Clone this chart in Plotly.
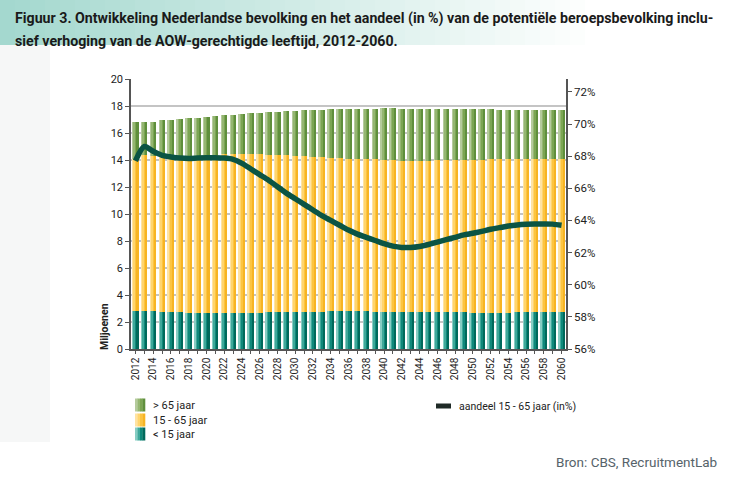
import plotly.graph_objects as go

years = list(range(2012, 2061))

under15 = [2.84, 2.84, 2.84, 2.77, 2.77, 2.77, 2.69, 2.69, 2.69, 2.69,
           2.69, 2.69, 2.69, 2.69, 2.69, 2.77, 2.77, 2.77, 2.77, 2.77,
           2.77, 2.77, 2.84, 2.84, 2.84, 2.84, 2.84, 2.77, 2.77, 2.77,
           2.77, 2.77, 2.77, 2.77, 2.77, 2.77, 2.77, 2.77, 2.69, 2.69,
           2.69, 2.69, 2.69, 2.77, 2.77, 2.77, 2.77, 2.77, 2.77]

age15_65 = [11.26, 11.56, 11.48, 11.48, 11.43, 11.48, 11.63, 11.63, 11.71, 11.71,
            11.78, 11.78, 11.78, 11.78, 11.78, 11.63, 11.63, 11.63, 11.55, 11.55,
            11.48, 11.43, 11.33, 11.33, 11.26, 11.26, 11.21, 11.28, 11.21, 11.21,
            11.13, 11.13, 11.13, 11.13, 11.21, 11.21, 11.21, 11.21, 11.29, 11.29,
            11.36, 11.36, 11.36, 11.28, 11.28, 11.28, 11.33, 11.33, 11.33]

over65 = [2.69, 2.39, 2.52, 2.69, 2.79, 2.81, 2.82, 2.82, 2.81, 2.88,
          2.89, 2.89, 2.96, 3.04, 3.04, 3.18, 3.18, 3.25, 3.33, 3.41,
          3.48, 3.53, 3.61, 3.61, 3.68, 3.68, 3.73, 3.73, 3.87, 3.87,
          3.88, 3.88, 3.88, 3.88, 3.80, 3.80, 3.80, 3.80, 3.80, 3.80,
          3.73, 3.67, 3.67, 3.67, 3.67, 3.67, 3.62, 3.62, 3.62]

share15_65 = [67.70, 68.60, 68.30, 68.05, 67.95, 67.88, 67.85, 67.88, 67.90, 67.90,
              67.88, 67.80, 67.55, 67.20, 66.85, 66.50, 66.10, 65.70, 65.35, 65.00,
              64.65, 64.30, 64.00, 63.70, 63.40, 63.15, 62.95, 62.75, 62.55, 62.40,
              62.32, 62.32, 62.38, 62.50, 62.65, 62.80, 62.95, 63.10, 63.20, 63.32,
              63.45, 63.55, 63.65, 63.72, 63.76, 63.78, 63.78, 63.77, 63.70]

left_ticks = [0, 2, 4, 6, 8, 10, 12, 14, 16, 18, 20]
right_ticks = [56, 58, 60, 62, 64, 66, 68, 70, 72]
year_labels = [str(y) if y % 2 == 0 else "" for y in years]

FONT = "Roboto, Liberation Sans, sans-serif"

# plot area in pixels
L, R, T, B = 131, 566, 79, 349
W, H = 731, 496


def px(x):
    return (x - L) / (R - L)


def py(y):
    return (B - y) / (B - T)


series = [
    ("< 15 jaar", under15, ["#86cdc3", "#3fa89a", "#0f887a", "#00695b"]),
    ("15 - 65 jaar", age15_65, ["#ffe3a2", "#ffd56e", "#fcc441", "#f7b423"]),
    ("> 65 jaar", over65, ["#b5cb9c", "#95b672", "#7ba553", "#5f8f3c"]),
]

fig = go.Figure()

base = [0.0] * len(years)
n_strips = 4
bar_w = 0.68
strip_w = bar_w / n_strips
for name, vals, cols in series:
    for i, c in enumerate(cols):
        fig.add_trace(go.Bar(
            x=years, y=vals, base=base,
            width=strip_w + 0.005, offset=-bar_w / 2 + i * strip_w,
            marker=dict(color=c, line=dict(width=0)),
            name=name, showlegend=False, hoverinfo="skip",
        ))
    base = [b + v for b, v in zip(base, vals)]

fig.add_trace(go.Scatter(
    x=years, y=share15_65, yaxis="y2", mode="lines",
    line=dict(color="#0b5444", width=5.5, shape="spline", smoothing=0.8),
    name="aandeel 15 - 65 jaar (in%)", showlegend=False,
))

shapes = []
# title band gradient
n_band = 40
for k in range(n_band):
    t = k / (n_band - 1)
    r = int(0xa4 + (255 - 0xa4) * t)
    g = int(0xd8 + (255 - 0xd8) * t)
    b = int(0xcf + (255 - 0xcf) * t)
    shapes.append(dict(type="rect", xref="paper", yref="paper",
                       x0=px(k * 15), x1=px((k + 1) * 15 + 1),
                       y0=py(45), y1=py(0),
                       fillcolor=f"rgb({r},{g},{b})", line=dict(width=0), layer="below"))
# light left panel
shapes.append(dict(type="rect", xref="paper", yref="paper",
                   x0=px(0), x1=px(50), y0=py(442), y1=py(45),
                   fillcolor="#f6f7f7", line=dict(width=0), layer="below"))

annotations = [
    dict(text="<b>Figuur 3. Ontwikkeling Nederlandse bevolking en het aandeel (in %) van de potentiële beroepsbevolking inclu-</b>",
         xref="paper", yref="paper", x=px(13), y=py(19),
         xanchor="left", yanchor="middle", showarrow=False,
         font=dict(family=FONT, size=14.2, color="#1a1a1a")),
    dict(text="<b>sief verhoging van de AOW-gerechtigde leeftijd, 2012-2060.</b>",
         xref="paper", yref="paper", x=px(13), y=py(41),
         xanchor="left", yanchor="middle", showarrow=False,
         font=dict(family=FONT, size=14.2, color="#1a1a1a")),
    dict(text="<b>Miljoenen</b>", textangle=-90,
         xref="paper", yref="paper", x=px(104), y=py(327),
         xanchor="center", yanchor="middle", showarrow=False,
         font=dict(family=FONT, size=10.5, color="#222222")),
    dict(text="Bron: CBS, RecruitmentLab",
         xref="paper", yref="paper", x=px(719), y=py(462),
         xanchor="right", yanchor="middle", showarrow=False,
         font=dict(family=FONT, size=13.5, color="#56636a")),
]

# manual legend (compact spacing like the reference)
legend_rows = [("> 65 jaar", series[2][2], 405),
               ("15 - 65 jaar", series[1][2], 420),
               ("< 15 jaar", series[0][2], 434)]
for label, cols, yc in legend_rows:
    sw = 10 / len(cols)
    for i, c in enumerate(cols):
        shapes.append(dict(type="rect", xref="paper", yref="paper",
                           x0=px(135 + i * sw), x1=px(135 + (i + 1) * sw + 0.3),
                           y0=py(yc + 6.5), y1=py(yc - 6.5),
                           fillcolor=c, line=dict(width=0)))
    annotations.append(dict(text=label, xref="paper", yref="paper",
                            x=px(151), y=py(yc), xanchor="left", yanchor="middle",
                            showarrow=False, font=dict(family=FONT, size=11, color="#222222")))
shapes.append(dict(type="line", xref="paper", yref="paper",
                   x0=px(436), x1=px(451), y0=py(406), y1=py(406),
                   line=dict(color="#1f2a26", width=5)))
annotations.append(dict(text="aandeel 15 - 65 jaar (in%)", xref="paper", yref="paper",
                        x=px(457), y=py(406), xanchor="left", yanchor="middle",
                        showarrow=False, font=dict(family=FONT, size=10.5, color="#222222")))

fig.update_layout(
    width=W, height=H,
    margin=dict(l=L, r=W - R, t=T, b=H - B, pad=0),
    paper_bgcolor="white", plot_bgcolor="white",
    barmode="overlay", bargap=0, showlegend=False,
    font=dict(family=FONT, size=11, color="#222222"),
    shapes=shapes, annotations=annotations,
    xaxis=dict(
        range=[2011.5, 2060.5], tickmode="array", tickvals=years, ticktext=year_labels,
        tickangle=-90, ticks="outside", ticklen=3, tickcolor="#555555",
        showline=True, linecolor="#555555", linewidth=1.5, showgrid=False,
        tickfont=dict(family=FONT, size=10, color="#222222"),
    ),
    yaxis=dict(
        range=[0, 20], tickmode="array", tickvals=left_ticks,
        ticks="outside", ticklen=4, tickcolor="#555555",
        showline=True, linecolor="#555555", linewidth=1.5,
        showgrid=True, gridcolor="#c4c4c4", gridwidth=1.5, zeroline=False,
        tickfont=dict(family=FONT, size=11, color="#222222"),
    ),
    yaxis2=dict(
        overlaying="y", side="right", range=[56, 72.8], tickmode="array",
        tickvals=right_ticks, ticktext=[f"{v}%" for v in right_ticks],
        ticks="outside", ticklen=4, tickcolor="#555555",
        showline=True, linecolor="#555555", linewidth=1.5, showgrid=False, zeroline=False,
        tickfont=dict(family=FONT, size=11.5, color="#222222"),
    ),
)

fig.write_html("out.html",
               config={"displayModeBar": False},
               post_script="document.body.style.margin='0';document.body.style.padding='0';")
